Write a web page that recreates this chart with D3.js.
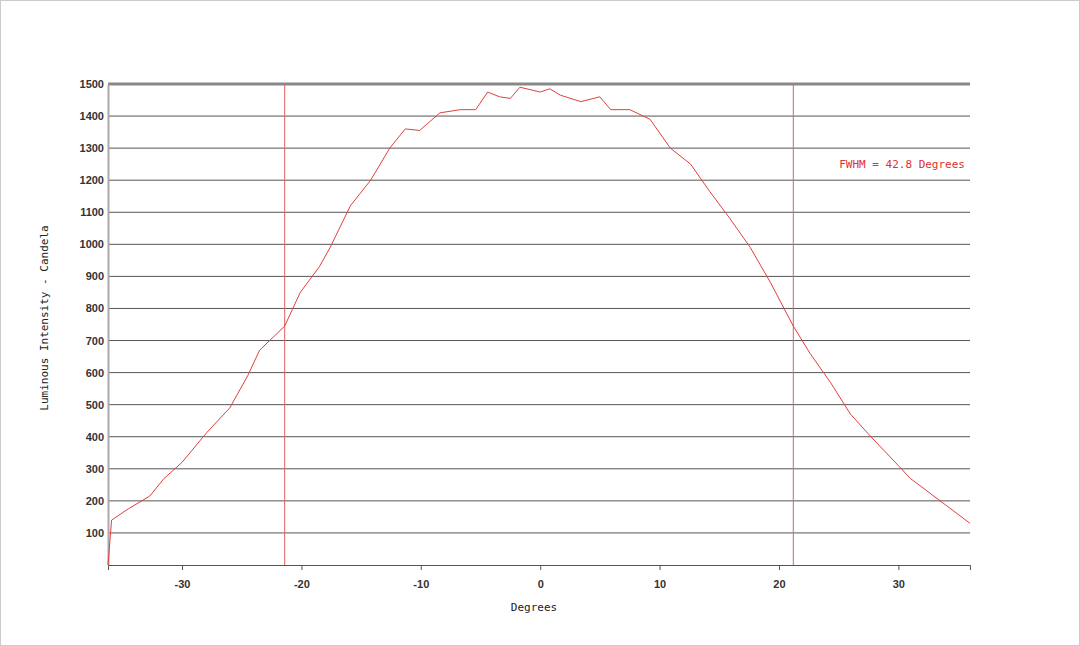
<!DOCTYPE html>
<html lang="en">
<head>
<meta charset="UTF-8">
<title>Luminous Intensity</title>
<script src="https://d3js.org/d3.v7.min.js"></script>
<style>
  body { margin: 0; background: #fff; }
  svg { font-family: "DejaVu Sans Mono", monospace; }
</style>
</head>
<body>
<svg id="chart" width="1080" height="646"></svg>
<script>
    // readings (degrees, candela)
    const degrees = [-36.2, -35.9, -34.5, -32.7, -31.5, -30, -28, -26, -24.5, -23.5, -21.4, -20.1, -18.5, -17.6, -15.9, -14.2, -12.6, -11.3, -10.1, -8.4, -6.7, -5.4, -4.4, -3.4, -2.5, -1.7, 0, 0.8, 1.7, 3.4, 5, 5.9, 7.5, 9.2, 10.9, 12.6, 14.2, 15.9, 17.6, 19.3, 21.2, 22.6, 24.3, 26, 27.7, 30, 31, 33.5, 36];
    const candela = [0, 140, 175, 215, 270, 320, 410, 490, 590, 670, 745, 850, 930, 990, 1120, 1200, 1300, 1360, 1355, 1410, 1420, 1420, 1475, 1460, 1455, 1490, 1475, 1485, 1465, 1445, 1460, 1420, 1420, 1390, 1300, 1250, 1165, 1080, 990, 880, 745, 660, 570, 470, 400, 310, 270, 200, 130];
    const yTicks = d3.range(100, 1501, 100);
    const xTicks = [-30, -20, -10, 0, 10, 20, 30];
    const fwhm = [-21.4, 21.2];

    const svg = d3.select("#chart");
    svg.append("rect").attr("x", 0.5).attr("y", 0.5).attr("width", 1079).attr("height", 645)
        .attr("fill", "none").attr("stroke", "#ccc");

    const x = d3.scaleLinear().domain([-36.2, 36]).range([108, 970]);
    const y = d3.scaleLinear().domain([0, 1500]).range([565, 84]);

    // horizontal grid
    svg.append("g").selectAll("line").data(yTicks).enter().append("line")
        .attr("x1", x(-36.2)).attr("x2", x(36))
        .attr("y1", d => y(d)).attr("y2", d => y(d))
        .attr("stroke", d => d === 1500 ? "#888" : "#555")
        .attr("stroke-width", d => d === 1500 ? 3 : 1);

    const yAxis = svg.append("g").attr("transform", `translate(${x(-36.2)},0)`)
        .call(d3.axisLeft(y).tickValues(yTicks).tickFormat(d => String(d)).tickSize(0).tickPadding(4));
    yAxis.select(".domain").attr("stroke", "#aaa").attr("stroke-width", 2);
    yAxis.selectAll("text").attr("font-size", 11).attr("font-weight", "bold").attr("fill", "#333");

    const xAxis = svg.append("g").attr("transform", `translate(0,${y(0)})`)
        .call(d3.axisBottom(x).tickValues(xTicks).tickFormat(d => String(d)).tickSize(5).tickPadding(10));
    xAxis.select(".domain").attr("stroke", "#555");
    xAxis.selectAll("line").attr("stroke", "#555");
    xAxis.selectAll("text").attr("font-size", 11).attr("font-weight", "bold").attr("fill", "#333");

    // FWHM markers
    svg.append("g").selectAll("line").data(fwhm).enter().append("line")
        .attr("x1", d => x(d)).attr("x2", d => x(d))
        .attr("y1", y(1500)).attr("y2", y(0))
        .attr("stroke", "#e06060").attr("stroke-width", 1);

    svg.append("path").datum(degrees.map((d, i) => [d, candela[i]]))
        .attr("fill", "none").attr("stroke", "#e04040").attr("stroke-width", 1)
        .attr("d", d3.line().x(d => x(d[0])).y(d => y(d[1])));

    svg.append("text").attr("x", 965).attr("y", 168).attr("text-anchor", "end")
        .attr("font-size", 11).attr("fill", "#e03030").text("FWHM = 42.8 Degrees");

    svg.append("text").attr("x", 534).attr("y", 611).attr("text-anchor", "middle")
        .attr("font-size", 11).attr("fill", "#222").text("Degrees");

    svg.append("text").attr("transform", "translate(48,318) rotate(-90)")
        .attr("text-anchor", "middle").attr("font-size", 11).attr("fill", "#222")
        .text("Luminous Intensity - Candela");
</script>
</body>
</html>
